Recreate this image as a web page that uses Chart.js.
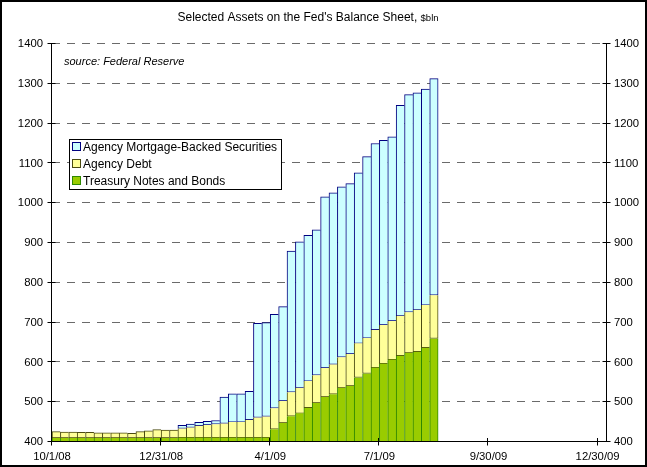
<!DOCTYPE html>
<html><head><meta charset="utf-8">
<script src="https://cdn.jsdelivr.net/npm/chart.js@4/dist/chart.umd.min.js"></script>
<style>html,body{margin:0;padding:0;background:#fff;overflow:hidden}canvas{display:block}</style>
</head><body>
<canvas id="c" width="647" height="467"></canvas>
<script>
// Weekly observations (Wednesdays)
const categories = ['10/1/08','10/8/08','10/15/08','10/22/08','10/29/08','11/5/08','11/12/08','11/19/08','11/26/08','12/3/08','12/10/08','12/17/08','12/24/08','12/31/08','1/7/09','1/14/09','1/21/09','1/28/09','2/4/09','2/11/09','2/18/09','2/25/09','3/4/09','3/11/09','3/18/09','3/25/09','4/1/09','4/8/09','4/15/09','4/22/09','4/29/09','5/6/09','5/13/09','5/20/09','5/27/09','6/3/09','6/10/09','6/17/09','6/24/09','7/1/09','7/8/09','7/15/09','7/22/09','7/29/09','8/5/09','8/12/09'];
const treasury = [410,410,410,410,410,410,410,410,410,410,410,410,410,410,410,411,411,411,411,411,411,411,411,411,411,411,432,448,465,472,486,498,513,520,536,541,562,572,587,597,607,617,624,627,637,660];
const agencyDebt = [16,15,15,14,14,13,13,13,13,12,16,18,21,20,20,23,25.5,30,32,33.5,35.5,39,39,45,50.5,53,53,55,60,64,67,70,73,75,77,80,86,89,95,97,97,100,102,105,107,109];
const mbs = [null,null,null,null,null,null,null,null,null,null,null,null,null,null,null,8,8.5,8.5,9,9.5,66.5,71,71,71,236.5,236,236,237,355,367,366,365,430,431,428,428,428,456,468,464,463,529,547,545,543,544];
const tickLabels = ['10/1/08','12/31/08','4/1/09','7/1/09','9/30/09','12/30/09'];
const tickWeeks = [0,13,26,39,52,65];
const axisWeeks = 66;
const yMin = 400, yMax = 1400, yStep = 100;
const seriesNames = ['Treasury Notes and Bonds','Agency Debt','Agency Mortgage-Backed Securities'];
const titleMain = "Selected Assets on the Fed's Balance Sheet, ";
const titleUnit = '$bln';
const sourceText = 'source: Federal Reserve';

const FONT = '"Liberation Sans", Arial, Helvetica, sans-serif';
const n = categories.length;
const pts = arr => arr.map((v, i) => ({x: i + 0.5, y: v}));
const lastR = ctx => (ctx.dataIndex === n - 1 ? 1 : 0);

const colors = {
  green: {bg: '#99CC00', bd: '#2E8700'},
  yellow: {bg: '#FFFF99', bd: '#4A4A10'},
  blue: {bg: '#CCFFFF', bd: '#000080'}
};

const decor = {
  id: 'decor',
  beforeDatasetsDraw(chart) {
    const {ctx, chartArea: a} = chart;
    const y = chart.scales.y;
    ctx.save();
    ctx.strokeStyle = '#6a6a6a';
    ctx.lineWidth = 1;
    ctx.setLineDash([8, 7]);
    y.ticks.forEach(t => {
      if (t.value === yMin) return;
      const py = Math.round(y.getPixelForValue(t.value)) - 0.5;
      ctx.beginPath(); ctx.moveTo(a.left, py); ctx.lineTo(a.right, py); ctx.stroke();
    });
    ctx.restore();
  },
  afterDraw(chart) {
    const {ctx, chartArea: a} = chart;
    const y = chart.scales.y, x = chart.scales.x;
    ctx.save();
    ctx.strokeStyle = '#000'; ctx.lineWidth = 1; ctx.setLineDash([]);
    const L = Math.round(a.left) - 0.5, R = Math.round(a.right) + 0.5, B = Math.round(a.bottom) - 0.5, T = Math.round(a.top);
    ctx.beginPath();
    ctx.moveTo(L, T); ctx.lineTo(L, B + 0.5);
    ctx.moveTo(R, T); ctx.lineTo(R, B + 0.5);
    ctx.moveTo(L - 0.5, B); ctx.lineTo(R + 0.5, B);
    y.ticks.forEach(t => {
      const py = Math.round(y.getPixelForValue(t.value)) - 0.5;
      ctx.moveTo(L - 4, py); ctx.lineTo(L + 4, py);
      ctx.moveTo(R - 4, py); ctx.lineTo(R + 4, py);
    });
    tickWeeks.forEach(w => {
      const px = Math.round(x.getPixelForValue(w)) - 0.5;
      ctx.moveTo(px, B - 3.5); ctx.lineTo(px, B + 4);
    });
    ctx.stroke();

    // title
    ctx.fillStyle = '#000';
    ctx.textBaseline = 'middle';
    ctx.font = '12px ' + FONT;
    const w1 = ctx.measureText(titleMain).width;
    ctx.font = '9.5px ' + FONT;
    const w2 = ctx.measureText(titleUnit).width;
    const tx = 308 - (w1 + w2) / 2;
    ctx.font = '12px ' + FONT;
    ctx.textAlign = 'left';
    ctx.fillText(titleMain, tx, 18);
    ctx.font = '9.5px ' + FONT;
    ctx.fillText(titleUnit, tx + w1, 18.5);

    // source
    ctx.font = 'italic 11px ' + FONT;
    ctx.fillText(sourceText, 64, 62);

    // legend
    ctx.fillStyle = '#fff';
    ctx.fillRect(69.5, 139.5, 212, 50);
    ctx.strokeStyle = '#000';
    ctx.strokeRect(69.5, 139.5, 212, 50);
    const ds = chart.data.datasets.slice().reverse();
    ds.forEach((d, i) => {
      const cy = 147 + i * 17;
      ctx.fillStyle = d.backgroundColor;
      ctx.fillRect(72.5, cy - 4.5, 8, 8);
      ctx.strokeStyle = d.borderColor;
      ctx.strokeRect(72.5, cy - 4.5, 8, 8);
      ctx.fillStyle = '#000';
      ctx.font = '12px ' + FONT;
      ctx.textBaseline = 'middle';
      ctx.fillText(d.label, 83, cy + 0.5);
    });

    // outer frame
    ctx.strokeStyle = '#000';
    ctx.lineWidth = 2;
    ctx.strokeRect(1, 1, 645, 465);
    ctx.restore();
  }
};

const tickFont = {family: FONT, size: 11.3};
const plain = v => String(v);

new Chart(document.getElementById('c'), {
  type: 'bar',
  data: {
    datasets: [
      {label: seriesNames[0], data: pts(treasury), stack: 's',
       backgroundColor: colors.green.bg, borderColor: colors.green.bd, borderSkipped: false,
       borderWidth: ctx => ({top: 0, left: 1, right: lastR(ctx), bottom: 0})},
      {label: seriesNames[1], data: pts(agencyDebt), stack: 's',
       backgroundColor: colors.yellow.bg, borderColor: colors.yellow.bd, borderSkipped: false,
       borderWidth: ctx => ({top: mbs[ctx.dataIndex] == null ? 1 : 0, left: 1, right: lastR(ctx), bottom: 1})},
      {label: seriesNames[2], data: pts(mbs), stack: 's',
       backgroundColor: colors.blue.bg, borderColor: colors.blue.bd, borderSkipped: false,
       borderWidth: ctx => ({top: 1, left: 1, right: lastR(ctx), bottom: 1})}
    ]
  },
  options: {
    responsive: false, animation: false, devicePixelRatio: 1,
    barPercentage: 1, categoryPercentage: 1,
    layout: {padding: {top: 44, left: 0, right: 0, bottom: 0}},
    plugins: {legend: {display: false}, tooltip: {enabled: false}, title: {display: false}},
    scales: {
      x: {type: 'linear', min: 0, max: axisWeeks, offset: false,
          grid: {display: false, drawTicks: false, offset: false}, border: {display: false},
          afterBuildTicks: s => { s.ticks = tickWeeks.map(v => ({value: v})); },
          ticks: {autoSkip: false, maxRotation: 0, color: '#000', font: tickFont, padding: 8,
                  callback: v => { const k = tickWeeks.indexOf(v); return k >= 0 ? tickLabels[k] : ''; }},
          afterFit: s => { s.height = 25; }},
      y: {type: 'linear', position: 'left', min: yMin, max: yMax, stacked: true,
          grid: {display: false, drawTicks: false}, border: {display: false},
          ticks: {stepSize: yStep, color: '#000', font: tickFont, padding: 9, callback: plain},
          afterFit: s => { s.width = 52; }},
      y2: {type: 'linear', position: 'right', min: yMin, max: yMax,
           grid: {display: false, drawTicks: false}, border: {display: false},
           ticks: {stepSize: yStep, color: '#000', font: tickFont, padding: 8, callback: plain},
           afterFit: s => { s.width = 41; }}
    }
  },
  plugins: [decor]
});
</script>
</body></html>
